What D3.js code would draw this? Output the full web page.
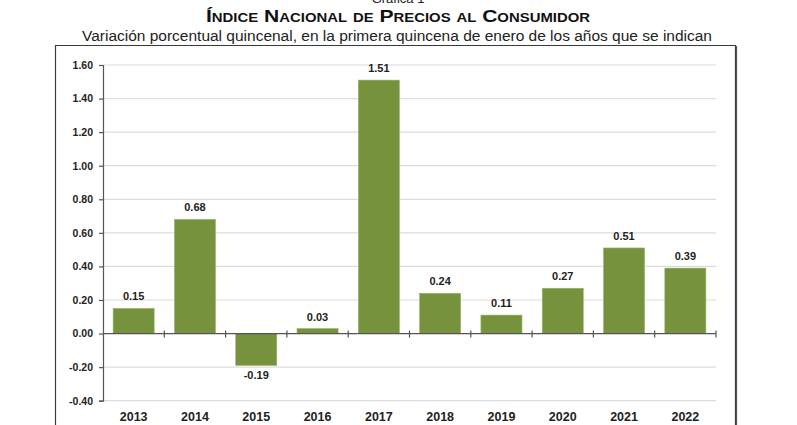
<!DOCTYPE html>
<html><head><meta charset="utf-8">
<script src="https://cdn.jsdelivr.net/npm/d3@7"></script>
<style>body{margin:0;background:#fff}svg{display:block}</style>
</head><body>
<svg id="c" width="797" height="425"></svg>
<script>
const years = ["2013","2014","2015","2016","2017","2018","2019","2020","2021","2022"];
const values = [0.15, 0.68, -0.19, 0.03, 1.51, 0.24, 0.11, 0.27, 0.51, 0.39];
const yTicks = [-0.40,-0.20,0.00,0.20,0.40,0.60,0.80,1.00,1.20,1.40,1.60];
const titleText = "Índice Nacional de Precios al Consumidor";
const subtitleText = "Variación porcentual quincenal, en la primera quincena de enero de los años que se indican";
const topText = "Gráfica 1";

const svg = d3.select("#c");
const font = "'Liberation Sans', Arial, sans-serif";
const m = {left:103, right:716, top:65, bottom:400.7};
const fmt = d3.formatLocale({decimal:".", thousands:",", grouping:[3], currency:["$",""], minus:"-"}).format(".2f");

// frame
svg.append("path").attr("d","M55.5,425 V45.5 H735.5 V425").attr("fill","none").attr("stroke","#3a3a3a").attr("stroke-width",1.2);
svg.append("line").attr("x1",736.5).attr("x2",736.5).attr("y1",46).attr("y2",425).attr("stroke","#555").attr("stroke-width",1.2);

// titles
svg.append("text").attr("x",398).attr("y",3).attr("text-anchor","middle").attr("font-family",font).attr("font-size",13).attr("fill","#222").text(topText);
svg.append("text").attr("x",398).attr("y",22).attr("text-anchor","middle").attr("font-family",font).attr("font-weight","bold")
  .attr("font-size",17).style("font-variant","small-caps").attr("fill","#111")
  .attr("textLength",384).attr("lengthAdjust","spacingAndGlyphs").text(titleText);
svg.append("text").attr("x",397).attr("y",41).attr("text-anchor","middle").attr("font-family",font)
  .attr("font-size",14).attr("fill","#222").attr("textLength",630).attr("lengthAdjust","spacingAndGlyphs").text(subtitleText);

const x = d3.scaleBand().domain(years).range([m.left, m.right]).paddingInner(0.33).paddingOuter(0.165);
const y = d3.scaleLinear().domain([-0.4, 1.6]).range([m.bottom, m.top]);

// grid
svg.append("g").selectAll("line").data(yTicks.filter(t=>t!==0)).join("line")
  .attr("x1",m.left).attr("x2",m.right).attr("y1",d=>y(d)).attr("y2",d=>y(d))
  .attr("stroke","#dcdcdc").attr("stroke-width",1.2);

// bars
svg.append("g").selectAll("rect").data(values).join("rect")
  .attr("x",(d,i)=>x(years[i])).attr("width",x.bandwidth())
  .attr("y",d=>y(Math.max(0,d))).attr("height",d=>Math.abs(y(d)-y(0)))
  .attr("fill","#76923c").attr("stroke","#9bb56a").attr("stroke-width",0.6);

// y axis
const yAxis = d3.axisLeft(y).tickValues(yTicks).tickFormat(fmt).tickSize(4).tickPadding(6);
const ya = svg.append("g").attr("transform",`translate(${m.left},0)`).call(yAxis);
ya.select(".domain").attr("stroke","#555").attr("stroke-width",1.2);
ya.selectAll(".tick line").attr("stroke","#555").attr("stroke-width",1.2);
ya.selectAll(".tick text").attr("font-family",font).attr("font-weight","bold").attr("font-size",10.5).attr("fill","#222");

// x axis line at zero with boundary ticks
const bounds = years.map(yr=>x(yr)-x.step()*x.paddingInner()/2).slice(1).concat([m.right]);
svg.append("line").attr("x1",m.left).attr("x2",m.right).attr("y1",y(0)).attr("y2",y(0)).attr("stroke","#555").attr("stroke-width",1.2);
svg.append("g").selectAll("line").data(bounds).join("line")
  .attr("x1",d=>d).attr("x2",d=>d).attr("y1",y(0)-3).attr("y2",y(0)+4).attr("stroke","#555").attr("stroke-width",1.2);

// category labels
svg.append("g").selectAll("text").data(years).join("text")
  .attr("x",d=>x(d)+x.bandwidth()/2).attr("y",421).attr("text-anchor","middle")
  .attr("font-family",font).attr("font-weight","bold").attr("font-size",12.5).attr("fill","#222").text(d=>d);

// value labels
svg.append("g").selectAll("text").data(values).join("text")
  .attr("x",(d,i)=>x(years[i])+x.bandwidth()/2)
  .attr("y",d=>d>=0 ? y(d)-8 : y(d)+14).attr("text-anchor","middle")
  .attr("font-family",font).attr("font-weight","bold").attr("font-size",11).attr("fill","#222")
  .text(d=>fmt(d));
</script>
</body></html>
